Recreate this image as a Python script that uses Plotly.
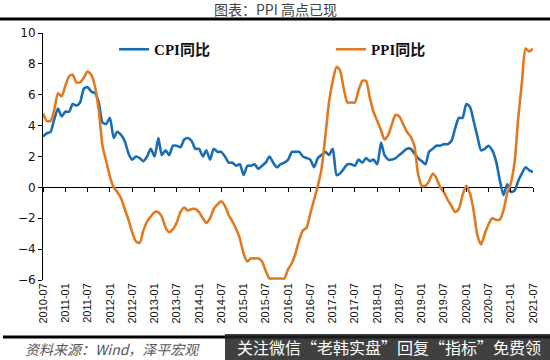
import pandas as pd
import plotly.graph_objects as go

dates = pd.date_range("2010-07-01", "2021-07-01", freq="MS")

cpi = [3.3, 3.5, 3.6, 4.4, 5.1, 4.6,
       4.9, 4.9, 5.4, 5.3, 5.5, 6.4, 6.5, 6.2, 6.1, 5.5, 4.2, 4.1,
       4.5, 3.2, 3.6, 3.4, 3.0, 2.2, 1.8, 2.0, 1.9, 1.7, 2.0, 2.5,
       2.0, 3.2, 2.1, 2.4, 2.1, 2.7, 2.7, 2.6, 3.1, 3.2, 3.0, 2.5,
       2.5, 2.0, 2.4, 1.8, 2.5, 2.3, 2.3, 2.0, 1.6, 1.6, 1.4, 1.5,
       0.8, 1.4, 1.4, 1.5, 1.2, 1.4, 1.6, 2.0, 1.6, 1.3, 1.5, 1.6,
       1.8, 2.3, 2.3, 2.3, 2.0, 1.9, 1.8, 1.3, 1.9, 2.1, 2.3, 2.1,
       2.5, 0.8, 0.9, 1.2, 1.5, 1.5, 1.4, 1.8, 1.6, 1.9, 1.7, 1.8,
       1.5, 2.9, 2.1, 1.8, 1.8, 1.9, 2.1, 2.3, 2.5, 2.5, 2.2, 1.9,
       1.7, 1.5, 2.3, 2.5, 2.7, 2.7, 2.8, 2.8, 3.0, 3.8, 4.5, 4.5,
       5.4, 5.2, 4.3, 3.3, 2.4, 2.5, 2.7, 2.4, 1.7, 0.5, -0.5, 0.2,
       -0.3, -0.2, 0.4, 0.9, 1.3, 1.1, 1.0]

ppi = [4.8, 4.3, 4.3, 5.0, 6.1, 5.9,
       6.6, 7.2, 7.3, 6.8, 6.8, 7.1, 7.5, 7.3, 6.5, 5.0, 2.7, 1.7,
       0.7, 0.0, -0.3, -0.7, -1.4, -2.1, -2.9, -3.5, -3.6, -2.8, -2.2, -1.9,
       -1.6, -1.6, -1.9, -2.6, -2.9, -2.7, -2.3, -1.6, -1.3, -1.5, -1.4, -1.4,
       -1.6, -2.0, -2.3, -2.0, -1.4, -1.1, -0.9, -1.2, -1.8, -2.2, -2.7, -3.3,
       -4.3, -4.8, -4.6, -4.6, -4.6, -4.8, -5.4, -5.9, -5.9, -5.9, -5.9, -5.9,
       -5.3, -4.9, -4.3, -3.4, -2.8, -2.6, -1.7, -0.8, 0.1, 1.2, 3.3, 5.5,
       6.9, 7.8, 7.6, 6.4, 5.5, 5.5, 5.5, 6.3, 6.9, 6.9, 5.8, 4.9,
       4.3, 3.7, 3.1, 3.4, 4.1, 4.7, 4.6, 4.1, 3.6, 3.3, 2.7, 0.9,
       0.1, 0.1, 0.4, 0.9, 0.6, 0.0, -0.3, -0.8, -1.2, -1.6, -1.4, -0.5,
       0.1, -0.4, -1.5, -3.1, -3.7, -3.0, -2.4, -2.0, -2.1, -2.1, -1.5, -0.4,
       0.3, 1.7, 4.4, 6.8, 9.0, 8.8, 9.0]

series_names = ["CPI同比", "PPI同比"]
title_text = "图表：PPI 高点已现"
source_text = "资料来源：Wind，泽平宏观"
watermark_text = "关注微信“老韩实盘”回复“指标”免费领"

tick_dates = pd.date_range("2010-07-01", "2021-07-01", freq="6MS")
tick_text = [d.strftime("%Y-%m") for d in tick_dates]

blue = "#1a6db3"
orange = "#e07a22"

fig = go.Figure()
fig.add_trace(go.Scatter(x=dates, y=cpi, name=series_names[0], mode="lines",
                         line=dict(color=blue, width=2.6, shape="spline", smoothing=0.6)))
fig.add_trace(go.Scatter(x=dates, y=ppi, name=series_names[1], mode="lines",
                         line=dict(color=orange, width=2.6, shape="spline", smoothing=0.6)))
# helper trace for the zero-line tick axis
fig.add_trace(go.Scatter(x=dates, y=[None] * len(dates), xaxis="x2", showlegend=False,
                         hoverinfo="skip", mode="lines"))

ymin, ymax = -6, 10
fig.update_layout(
    width=550, height=360,
    margin=dict(l=43, r=17, t=33, b=80, autoexpand=False),
    paper_bgcolor="white", plot_bgcolor="white",
    showlegend=True,
    legend=dict(orientation="h", x=0.145, y=1.0, xanchor="left", yanchor="top",
                entrywidth=172, entrywidthmode="pixels",
                font=dict(family="Liberation Serif, Noto Sans CJK SC", size=15, color="#111",
                          weight="bold"),
                bgcolor="rgba(0,0,0,0)", itemwidth=30),
    xaxis=dict(range=[dates[0], dates[-1]], tickvals=list(tick_dates), ticktext=tick_text,
               tickangle=-90, showline=False, ticks="", showgrid=False, zeroline=False,
               tickfont=dict(family="Liberation Sans", size=11, color="#111")),
    xaxis2=dict(overlaying="x", anchor="free", position=(0 - ymin) / (ymax - ymin),
                range=[dates[0], dates[-1]], tickvals=list(tick_dates), showticklabels=False,
                ticks="outside", ticklen=4, tickcolor="#000", tickwidth=1,
                showline=False, showgrid=False, zeroline=False),
    yaxis=dict(range=[ymin, ymax], dtick=2, showline=True, linecolor="#000", linewidth=1,
               ticks="outside", ticklen=4, tickcolor="#000", showgrid=False,
               zeroline=True, zerolinecolor="#000", zerolinewidth=1,
               tickfont=dict(family="DejaVu Sans", size=12, color="#111")),
)

# title
fig.add_annotation(text=title_text, xref="paper", yref="paper", x=(275 - 43) / 490, y=1.0,
                   yshift=33 - 9, xanchor="center", yanchor="middle", showarrow=False,
                   font=dict(family="Noto Sans CJK SC", size=14, color="#444"))
# header rule
fig.add_shape(type="line", xref="paper", yref="paper", x0=-43 / 490, x1=507 / 490,
              y0=1 + (33 - 19) / 247, y1=1 + (33 - 19) / 247,
              line=dict(color="#000", width=3))
# footer rule
fig.add_shape(type="line", xref="paper", yref="paper", x0=-40 / 490, x1=507 / 490,
              y0=-(337 - 280) / 247, y1=-(337 - 280) / 247,
              line=dict(color="#000", width=3))
# source text
fig.add_annotation(text="<i>" + source_text + "</i>", xref="paper", yref="paper",
                   x=-20 / 490, y=-(349 - 280) / 247, xanchor="left", yanchor="middle",
                   showarrow=False, font=dict(family="Noto Sans CJK SC", size=14, color="#555"))
# watermark box
fig.add_shape(type="rect", xref="paper", yref="paper", x0=(225 - 43) / 490, x1=507 / 490,
              y0=-(360 - 280) / 247, y1=-(334 - 280) / 247,
              fillcolor="rgba(30,30,30,0.85)", line=dict(width=0))
fig.add_annotation(text=watermark_text, xref="paper", yref="paper",
                   x=(389 - 43) / 490, y=-(347 - 280) / 247, xanchor="center", yanchor="middle",
                   showarrow=False, font=dict(family="Noto Sans CJK SC", size=16, color="white"))

fig.write_html("out.html", config={"displayModeBar": False},
               post_script="document.body.style.margin='0';")
